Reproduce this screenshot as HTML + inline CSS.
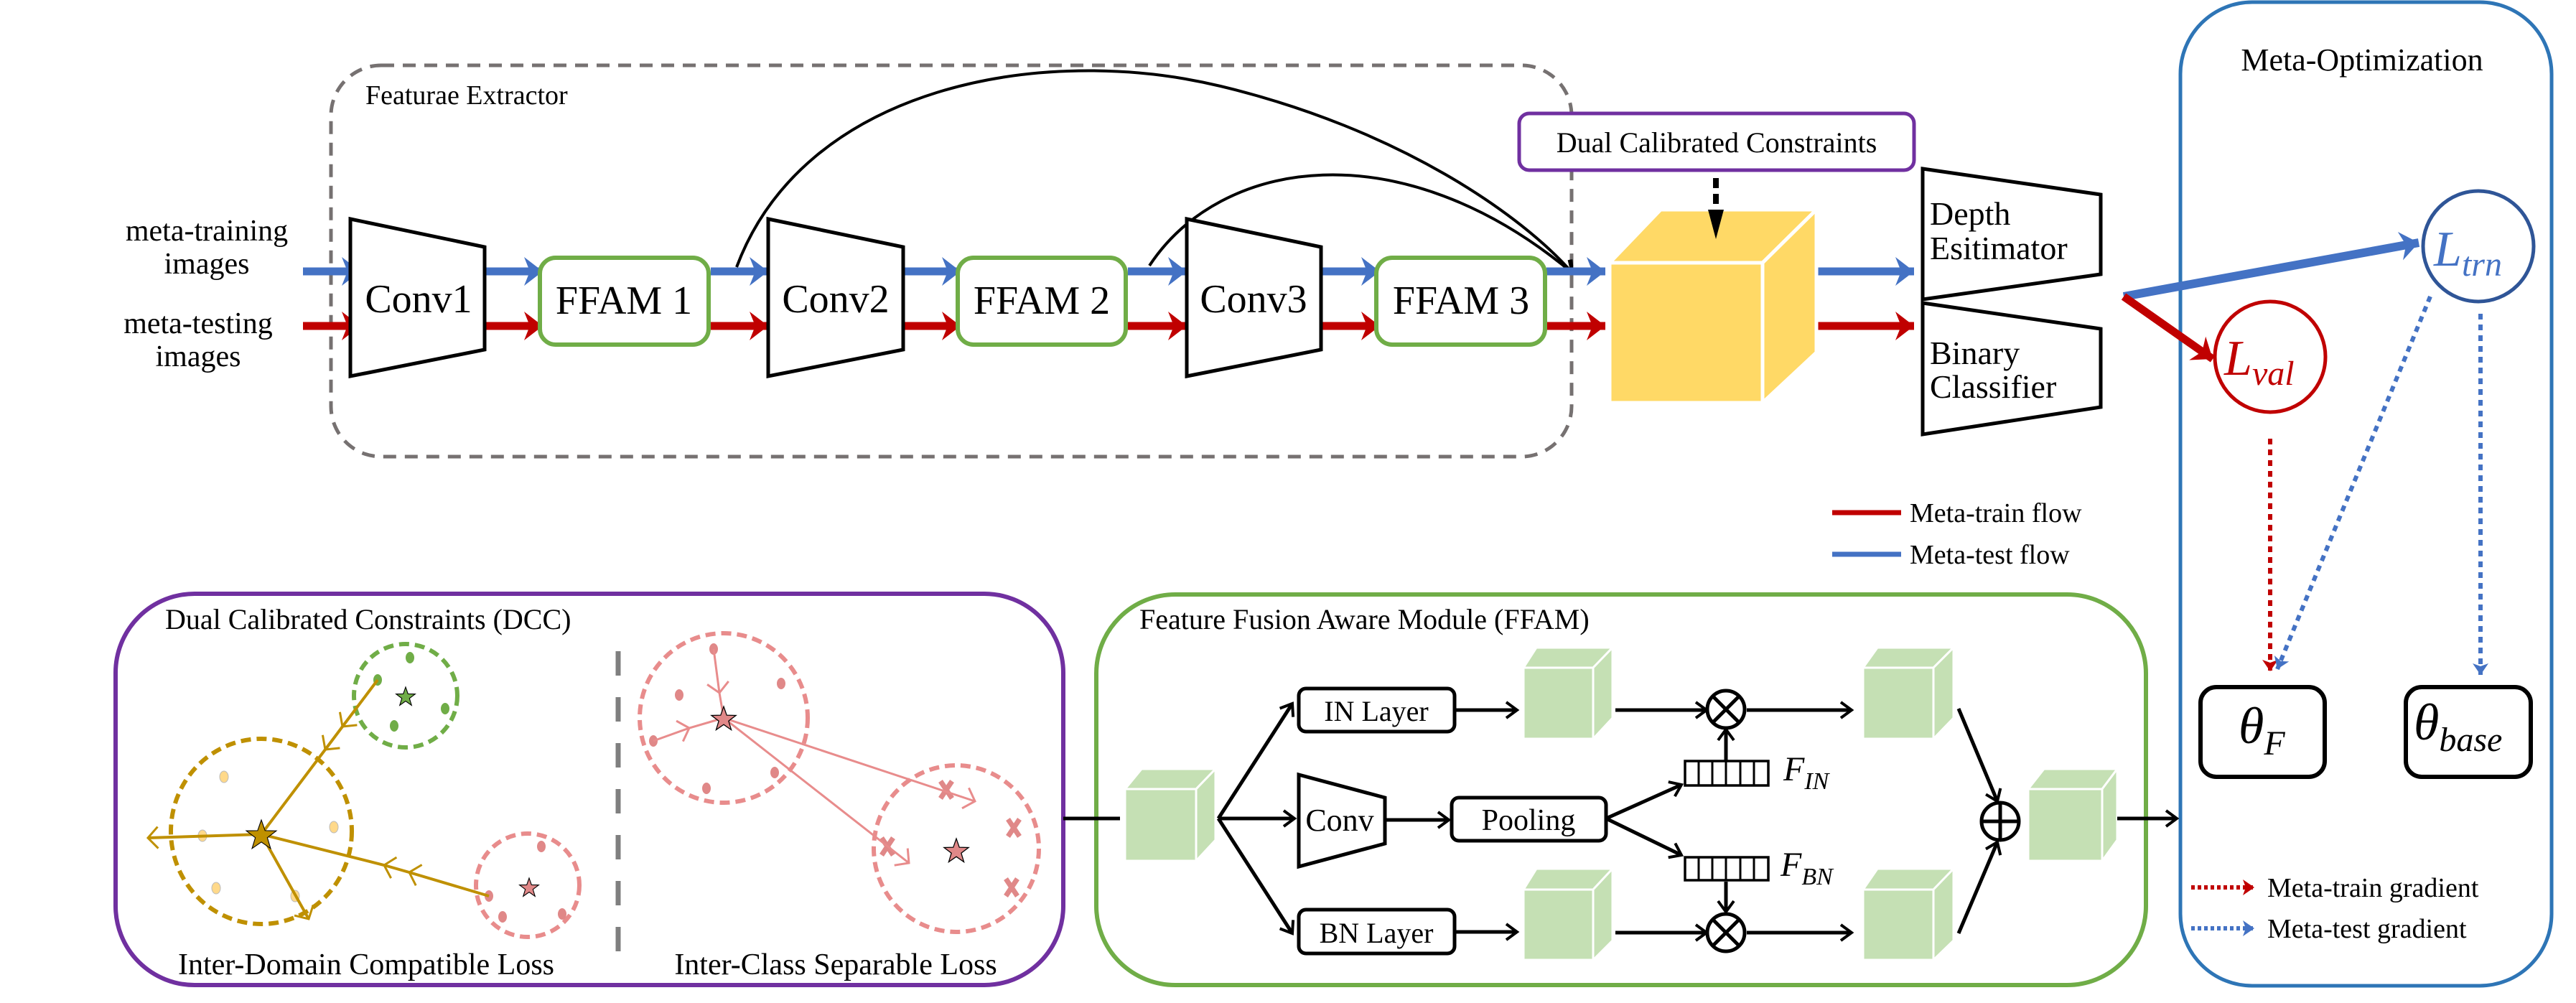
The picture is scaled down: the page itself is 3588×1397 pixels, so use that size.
<!DOCTYPE html>
<html><head><meta charset="utf-8"><style>
html,body{margin:0;padding:0;background:#fff;}
svg{display:block;}
svg, text{font-family:"Liberation Serif","Times New Roman",Times,serif;}
text{fill:#000;}
</style></head><body>
<svg width="3588" height="1397" viewBox="0 0 3588 1397" xmlns="http://www.w3.org/2000/svg" font-family="'Liberation Serif','Times New Roman',Times,serif">
<defs>
<marker id="hb" markerUnits="userSpaceOnUse" markerWidth="40" markerHeight="50" refX="28" refY="22" orient="auto" viewBox="0 0 40 50"><path d="M2,2 L28,22 L2,42 L10,22 Z" fill="#4472C4"/></marker>
<marker id="hr" markerUnits="userSpaceOnUse" markerWidth="40" markerHeight="50" refX="28" refY="22" orient="auto" viewBox="0 0 40 50"><path d="M2,2 L28,22 L2,42 L10,22 Z" fill="#C00000"/></marker>
<marker id="ak" markerUnits="userSpaceOnUse" markerWidth="24" markerHeight="30" refX="18" refY="13" orient="auto" viewBox="0 0 24 30"><path d="M3,2 L18,13 L3,24" fill="none" stroke="#000" stroke-width="4"/></marker>
<marker id="ag" markerUnits="userSpaceOnUse" markerWidth="30" markerHeight="40" refX="16" refY="17" orient="auto" viewBox="0 0 30 40"><path d="M2,2 L16,17 L2,32" fill="none" stroke="#BF9000" stroke-width="3"/></marker>
<marker id="ap" markerUnits="userSpaceOnUse" markerWidth="30" markerHeight="40" refX="16" refY="17" orient="auto" viewBox="0 0 30 40"><path d="M2,2 L16,17 L2,32" fill="none" stroke="#E88C8C" stroke-width="3"/></marker>
<marker id="dr" markerUnits="userSpaceOnUse" markerWidth="24" markerHeight="30" refX="18" refY="13" orient="auto" viewBox="0 0 24 30"><path d="M2,2 L18,13 L2,24 L6,13Z" fill="#C00000"/></marker>
<marker id="db" markerUnits="userSpaceOnUse" markerWidth="24" markerHeight="30" refX="18" refY="13" orient="auto" viewBox="0 0 24 30"><path d="M2,2 L18,13 L2,24 L6,13Z" fill="#4472C4"/></marker>
<path id="star" d="M0,-1 L0.235,-0.324 L0.951,-0.309 L0.38,0.124 L0.588,0.809 L0,0.4 L-0.588,0.809 L-0.38,0.124 L-0.951,-0.309 L-0.235,-0.324 Z"/>
</defs>

<rect x="461" y="91" width="1728" height="545" rx="70" fill="none" stroke="#767171" stroke-width="5" stroke-dasharray="18,12"/>
<text x="509" y="145" font-size="38">Featurae Extractor</text>

<text x="288" y="335" font-size="42" text-anchor="middle">meta-training</text>
<text x="288" y="381" font-size="42" text-anchor="middle">images</text>
<text x="276" y="464" font-size="42" text-anchor="middle">meta-testing</text>
<text x="276" y="510" font-size="42" text-anchor="middle">images</text>

<path d="M1026,372 C1120,120 1450,60 1700,120 C1950,180 2120,300 2190,380" fill="none" stroke="#000" stroke-width="4" marker-end="url(#ak)"/>
<path d="M1601,370 C1700,220 1950,180 2190,380" fill="none" stroke="#000" stroke-width="4" marker-end="url(#ak)"/>

<g stroke-width="11" fill="none">
<line x1="422" y1="378" x2="502" y2="378" stroke="#4472C4" marker-end="url(#hb)"/>
<line x1="422" y1="454" x2="502" y2="454" stroke="#C00000" marker-end="url(#hr)"/>
<line x1="675" y1="378" x2="756" y2="378" stroke="#4472C4" marker-end="url(#hb)"/>
<line x1="675" y1="454" x2="756" y2="454" stroke="#C00000" marker-end="url(#hr)"/>
<line x1="990" y1="378" x2="1070" y2="378" stroke="#4472C4" marker-end="url(#hb)"/>
<line x1="990" y1="454" x2="1070" y2="454" stroke="#C00000" marker-end="url(#hr)"/>
<line x1="1258" y1="378" x2="1338" y2="378" stroke="#4472C4" marker-end="url(#hb)"/>
<line x1="1258" y1="454" x2="1338" y2="454" stroke="#C00000" marker-end="url(#hr)"/>
<line x1="1571" y1="378" x2="1653" y2="378" stroke="#4472C4" marker-end="url(#hb)"/>
<line x1="1571" y1="454" x2="1653" y2="454" stroke="#C00000" marker-end="url(#hr)"/>
<line x1="1824" y1="378" x2="1922" y2="378" stroke="#4472C4" marker-end="url(#hb)"/>
<line x1="1824" y1="454" x2="1922" y2="454" stroke="#C00000" marker-end="url(#hr)"/>
<line x1="2154" y1="378" x2="2236" y2="378" stroke="#4472C4" marker-end="url(#hb)"/>
<line x1="2154" y1="454" x2="2236" y2="454" stroke="#C00000" marker-end="url(#hr)"/>
<line x1="2530" y1="378" x2="2666" y2="378" stroke="#4472C4" marker-end="url(#hb)"/>
<line x1="2530" y1="454" x2="2666" y2="454" stroke="#C00000" marker-end="url(#hr)"/>
</g>

<g fill="#fff" stroke="#000" stroke-width="5">
<polygon points="488,305 675,344 675,487 488,524"/>
<polygon points="1070,305 1258,344 1258,487 1070,524"/>
<polygon points="1653,305 1840,344 1840,487 1653,524"/>
</g>
<text x="583" y="435" font-size="56" text-anchor="middle">Conv1</text>
<text x="1164" y="435" font-size="56" text-anchor="middle">Conv2</text>
<text x="1746" y="435" font-size="56" text-anchor="middle">Conv3</text>

<g fill="#fff" stroke="#70AD47" stroke-width="6">
<rect x="752" y="359" width="235" height="121" rx="22"/>
<rect x="1334" y="359" width="234" height="121" rx="22"/>
<rect x="1917" y="359" width="235" height="121" rx="22"/>
</g>
<text x="869" y="437" font-size="56" text-anchor="middle">FFAM 1</text>
<text x="1451" y="437" font-size="56" text-anchor="middle">FFAM 2</text>
<text x="2035" y="437" font-size="56" text-anchor="middle">FFAM 3</text>

<g fill="#FFD966" stroke="#fff" stroke-width="5">
<polygon points="2242,366 2313,292 2530,292 2455,366"/>
<polygon points="2455,366 2530,292 2530,491 2455,561"/>
<rect x="2242" y="366" width="213" height="195"/>
</g>

<rect x="2116" y="158" width="550" height="79" rx="14" fill="#fff" stroke="#7030A0" stroke-width="5"/>
<text x="2391" y="212" font-size="40" text-anchor="middle">Dual Calibrated Constraints</text>
<line x1="2390" y1="248" x2="2390" y2="300" stroke="#000" stroke-width="8" stroke-dasharray="14,8"/>
<polygon points="2379,292 2401,292 2390,333" fill="#000"/>

<g fill="#fff" stroke="#000" stroke-width="5">
<polygon points="2678,235 2926,271 2926,382 2678,417"/>
<polygon points="2678,422 2926,458 2926,567 2678,605"/>
</g>
<text x="2688" y="313" font-size="46">Depth</text>
<text x="2688" y="361" font-size="46">Esitimator</text>
<text x="2688" y="507" font-size="46">Binary</text>
<text x="2688" y="554" font-size="46">Classifier</text>

<line x1="2552" y1="714" x2="2648" y2="714" stroke="#C00000" stroke-width="7"/>
<text x="2660" y="727" font-size="38">Meta-train flow</text>
<line x1="2552" y1="772" x2="2648" y2="772" stroke="#4472C4" stroke-width="7"/>
<text x="2660" y="785" font-size="38">Meta-test flow</text>

<rect x="3037" y="3" width="517" height="1370" rx="100" fill="none" stroke="#2E75B6" stroke-width="5"/>
<text x="3290" y="98" font-size="44" text-anchor="middle">Meta-Optimization</text>
<line x1="2958" y1="413" x2="3369" y2="338" stroke="#4472C4" stroke-width="12" marker-end="url(#hb)"/>
<line x1="2958" y1="413" x2="3082" y2="500" stroke="#C00000" stroke-width="11" marker-end="url(#hr)"/>
<ellipse cx="3452" cy="343" rx="77" ry="77" fill="none" stroke="#2F5597" stroke-width="5"/>
<text x="3390" y="370" font-size="70" font-style="italic" style="fill:#4472C4">L<tspan font-size="48" dy="14">trn</tspan></text>
<ellipse cx="3162" cy="497" rx="77" ry="77" fill="none" stroke="#C00000" stroke-width="5"/>
<text x="3098" y="522" font-size="70" font-style="italic" style="fill:#C00000">L<tspan font-size="48" dy="14">val</tspan></text>
<line x1="3162" y1="611" x2="3162" y2="935" stroke="#C00000" stroke-width="6" stroke-dasharray="8,7" marker-end="url(#dr)"/>
<line x1="3385" y1="413" x2="3172" y2="932" stroke="#4472C4" stroke-width="6" stroke-dasharray="8,7" marker-end="url(#db)"/>
<line x1="3455" y1="437" x2="3455" y2="940" stroke="#4472C4" stroke-width="6" stroke-dasharray="8,7" marker-end="url(#db)"/>
<rect x="3065" y="957" width="173" height="125" rx="22" fill="#fff" stroke="#000" stroke-width="6"/>
<text x="3118" y="1035" font-size="72" font-style="italic">θ<tspan font-size="48" dy="16">F</tspan></text>
<rect x="3351" y="957" width="174" height="125" rx="22" fill="#fff" stroke="#000" stroke-width="6"/>
<text x="3362" y="1030" font-size="72" font-style="italic">θ<tspan font-size="48" dy="16">base</tspan></text>
<line x1="3052" y1="1236" x2="3140" y2="1236" stroke="#C00000" stroke-width="6" stroke-dasharray="5,4" marker-end="url(#dr)"/>
<text x="3158" y="1249" font-size="38">Meta-train gradient</text>
<line x1="3052" y1="1293" x2="3140" y2="1293" stroke="#4472C4" stroke-width="6" stroke-dasharray="5,4" marker-end="url(#db)"/>
<text x="3158" y="1306" font-size="38">Meta-test gradient</text>

<rect x="161" y="827" width="1320" height="545" rx="110" fill="none" stroke="#7030A0" stroke-width="6"/>
<text x="230" y="876" font-size="40">Dual Calibrated Constraints (DCC)</text>
<line x1="861" y1="907" x2="861" y2="1327" stroke="#7F7F7F" stroke-width="7" stroke-dasharray="34,30"/>
<text x="510" y="1357" font-size="42" text-anchor="middle">Inter-Domain Compatible Loss</text>
<text x="1164" y="1357" font-size="42" text-anchor="middle">Inter-Class Separable Loss</text>

<g fill="none" stroke-width="6" stroke-dasharray="14,8">
<circle cx="565" cy="969" r="72" stroke="#70AD47"/>
<ellipse cx="364" cy="1158" rx="126" ry="129" stroke="#BF9000"/>
<circle cx="735" cy="1233" r="72" stroke="#E88C8C"/>
<ellipse cx="1008" cy="1000" rx="117" ry="118" stroke="#E88C8C"/>
<ellipse cx="1332" cy="1182" rx="115" ry="116" stroke="#E88C8C"/>
</g>
<g fill="#70AD47"><ellipse cx="571" cy="916" rx="6" ry="8"/><ellipse cx="526" cy="947" rx="6" ry="8"/><ellipse cx="620" cy="987" rx="6" ry="8"/><ellipse cx="549" cy="1011" rx="6" ry="8"/></g>
<g fill="#FFD98A" stroke="#bbb" stroke-width="1"><ellipse cx="312" cy="1082" rx="6" ry="8"/><ellipse cx="465" cy="1152" rx="6" ry="8"/><ellipse cx="282" cy="1164" rx="6" ry="8"/><ellipse cx="301" cy="1237" rx="6" ry="8"/><ellipse cx="411" cy="1248" rx="6" ry="8"/></g>
<g fill="#E08888"><ellipse cx="754" cy="1179" rx="6" ry="8"/><ellipse cx="681" cy="1248" rx="6" ry="8"/><ellipse cx="700" cy="1277" rx="6" ry="8"/><ellipse cx="783" cy="1273" rx="6" ry="8"/>
<ellipse cx="994" cy="904" rx="6" ry="8"/><ellipse cx="1088" cy="952" rx="6" ry="8"/><ellipse cx="946" cy="968" rx="6" ry="8"/><ellipse cx="910" cy="1032" rx="6" ry="8"/><ellipse cx="1079" cy="1076" rx="6" ry="8"/><ellipse cx="984" cy="1098" rx="6" ry="8"/></g>
<g stroke="#E08888" stroke-width="7">
<path d="M1310,1088 L1326,1112 M1326,1088 L1310,1112"/>
<path d="M1404,1141 L1420,1165 M1420,1141 L1404,1165"/>
<path d="M1228,1167 L1244,1191 M1244,1167 L1228,1191"/>
<path d="M1401,1224 L1417,1248 M1417,1224 L1401,1248"/>
</g>
<g fill="none" stroke="#BF9000" stroke-width="4">
<path d="M526,947 L477,1012 L453,1044 L364,1162" marker-mid="url(#ag)"/>
<path d="M681,1248 L570,1215 L535,1205 L364,1162" marker-mid="url(#ag)"/>
<path d="M364,1162 L206,1167" marker-end="url(#ag)"/>
<path d="M364,1162 L430,1280" marker-end="url(#ag)"/>
</g>
<g fill="none" stroke="#E88C8C" stroke-width="3">
<path d="M994,904 L1002,965 L1008,1000" marker-mid="url(#ap)"/>
<path d="M910,1032 L960,1014 L1008,1000" marker-mid="url(#ap)"/>
<path d="M1008,1000 L1358,1116" marker-end="url(#ap)"/>
<path d="M1008,1000 L1266,1202" marker-end="url(#ap)"/>
</g>
<use href="#star" transform="translate(364,1164) scale(22)" fill="#BF9000" stroke="#000" stroke-width="0.05"/>
<use href="#star" transform="translate(565,971) scale(14)" fill="#70AD47" stroke="#000" stroke-width="0.08"/>
<use href="#star" transform="translate(737,1237) scale(14)" fill="#E08888" stroke="#000" stroke-width="0.08"/>
<use href="#star" transform="translate(1008,1002) scale(18)" fill="#E08888" stroke="#000" stroke-width="0.07"/>
<use href="#star" transform="translate(1332,1186) scale(18)" fill="#E08888" stroke="#000" stroke-width="0.07"/>

<rect x="1527" y="828" width="1462" height="544" rx="110" fill="none" stroke="#70AD47" stroke-width="6"/>
<text x="1587" y="876" font-size="40">Feature Fusion Aware Module (FFAM)</text>
<line x1="1481" y1="1140" x2="1560" y2="1140" stroke="#000" stroke-width="5"/>

<g fill="#C5E0B4" stroke="#fff" stroke-width="3">
<polygon points="1567,1099 1590,1071 1693,1071 1666,1099"/><polygon points="1666,1099 1693,1071 1693,1170 1666,1199"/><rect x="1567" y="1099" width="99" height="100"/>
<polygon points="2122,930 2140,902 2246,902 2219,930"/><polygon points="2219,930 2246,902 2246,1000 2219,1029"/><rect x="2122" y="930" width="97" height="99"/>
<polygon points="2595,930 2615,902 2721,902 2693,930"/><polygon points="2693,930 2721,902 2721,1000 2693,1029"/><rect x="2595" y="930" width="98" height="99"/>
<polygon points="2122,1239 2140,1210 2246,1210 2219,1239"/><polygon points="2219,1239 2246,1210 2246,1310 2219,1337"/><rect x="2122" y="1239" width="97" height="98"/>
<polygon points="2595,1239 2615,1210 2721,1210 2693,1239"/><polygon points="2693,1239 2721,1210 2721,1310 2693,1337"/><rect x="2595" y="1239" width="98" height="98"/>
<polygon points="2825,1099 2847,1071 2949,1071 2928,1099"/><polygon points="2928,1099 2949,1071 2949,1170 2928,1199"/><rect x="2825" y="1099" width="103" height="100"/>
</g>

<g stroke="#000" stroke-width="5" fill="none">
<line x1="1697" y1="1140" x2="1800" y2="980" marker-end="url(#ak)"/>
<line x1="1697" y1="1140" x2="1803" y2="1140" marker-end="url(#ak)"/>
<line x1="1697" y1="1140" x2="1800" y2="1300" marker-end="url(#ak)"/>
<line x1="2026" y1="989" x2="2113" y2="989" marker-end="url(#ak)"/>
<line x1="2026" y1="1298" x2="2113" y2="1298" marker-end="url(#ak)"/>
<line x1="1929" y1="1142" x2="2018" y2="1142" marker-end="url(#ak)"/>
<line x1="2250" y1="989" x2="2377" y2="989" marker-end="url(#ak)"/>
<line x1="2250" y1="1299" x2="2377" y2="1299" marker-end="url(#ak)"/>
<line x1="2433" y1="989" x2="2579" y2="989" marker-end="url(#ak)"/>
<line x1="2433" y1="1299" x2="2579" y2="1299" marker-end="url(#ak)"/>
<line x1="2237" y1="1140" x2="2342" y2="1093" marker-end="url(#ak)"/>
<line x1="2237" y1="1140" x2="2342" y2="1191" marker-end="url(#ak)"/>
<line x1="2404" y1="1060" x2="2404" y2="1016" marker-end="url(#ak)"/>
<line x1="2404" y1="1228" x2="2404" y2="1270" marker-end="url(#ak)"/>
<line x1="2728" y1="987" x2="2782" y2="1116" marker-end="url(#ak)"/>
<line x1="2728" y1="1300" x2="2782" y2="1173" marker-end="url(#ak)"/>
<line x1="2949" y1="1140" x2="3032" y2="1140" marker-end="url(#ak)"/>
</g>

<g fill="#fff" stroke="#000" stroke-width="5">
<rect x="1809" y="959" width="217" height="60" rx="10"/>
<polygon points="1809,1079 1929,1111 1929,1175 1809,1207"/>
<rect x="2022" y="1111" width="215" height="60" rx="10"/>
<rect x="1809" y="1267" width="217" height="61" rx="10"/>
</g>
<text x="1917" y="1004" font-size="40" text-anchor="middle">IN Layer</text>
<text x="1866" y="1157" font-size="44" text-anchor="middle">Conv</text>
<text x="2129" y="1156" font-size="42" text-anchor="middle">Pooling</text>
<text x="1917" y="1313" font-size="40" text-anchor="middle">BN Layer</text>

<g fill="#fff" stroke="#000" stroke-width="3.5">
<rect x="2347" y="1060" width="116" height="34"/>
<rect x="2347" y="1194" width="116" height="32"/>
</g>
<g stroke="#000" stroke-width="3">
<path d="M2366,1060V1094M2385,1060V1094M2404,1060V1094M2424,1060V1094M2443,1060V1094"/>
<path d="M2366,1194V1226M2385,1194V1226M2404,1194V1226M2424,1194V1226M2443,1194V1226"/>
</g>
<text x="2484" y="1087" font-size="48" font-style="italic">F<tspan font-size="34" dy="12">IN</tspan></text>
<text x="2480" y="1220" font-size="48" font-style="italic">F<tspan font-size="34" dy="12">BN</tspan></text>

<g fill="#fff" stroke="#000" stroke-width="5">
<circle cx="2404" cy="988" r="26"/>
<circle cx="2404" cy="1299" r="26"/>
<circle cx="2786" cy="1144" r="26"/>
</g>
<g stroke="#000" stroke-width="5">
<path d="M2386,970 L2422,1006 M2422,970 L2386,1006"/>
<path d="M2386,1281 L2422,1317 M2422,1281 L2386,1317"/>
<path d="M2786,1120 V1168 M2762,1144 H2810"/>
</g>
</svg>
</body></html>
